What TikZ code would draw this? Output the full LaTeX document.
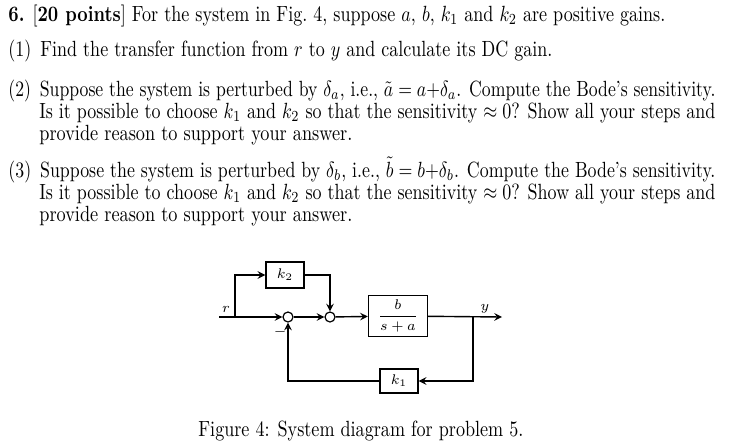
\documentclass[tikz,border=0pt]{standalone}
\usepackage{amsmath,amssymb}
\usepackage{graphicx}
\usetikzlibrary{arrows, positioning}
\newcommand{\fitline}[2]{\resizebox{#1}{1.1\height}{#2}}
\begin{document}
\begin{tikzpicture}[x=0.5pt, y=-0.5pt,
        txt/.style={anchor=base west, inner sep=0pt, font=\normalsize},
        blk/.style={rectangle, draw, line width=0.7pt, inner sep=0pt, font=\scriptsize},
        sumpt/.style={circle, draw, line width=0.6pt, inner sep=0pt, minimum size=5pt},
        arrow/.style={->, >=stealth, line width=0.7pt},
        line/.style={line width=0.7pt}
    ]
        \useasboundingbox (0,0) rectangle (730,441);
        % Problem text
        \node[txt] (l0) at (8,21) {\fitline{328.5pt}{\textbf{6.} [\textbf{20 points}] For the system in Fig.~4, suppose $a$, $b$, $k_1$ and $k_2$ are positive gains.}};
        \node[txt] (l1) at (8,56) {\fitline{272pt}{(1)\, Find the transfer function from $r$ to $y$ and calculate its DC gain.}};
        \node[txt] (l2a) at (8,96) {\fitline{353.5pt}{(2)\, Suppose the system is perturbed by $\delta_a$, i.e., $\tilde{a}=a{+}\delta_a$. Compute the Bode's sensitivity.}};
        \node[txt] (l2b) at (39,118) {\fitline{338pt}{Is it possible to choose $k_1$ and $k_2$ so that the sensitivity $\approx 0$? Show all your steps and}};
        \node[txt] (l2c) at (39,140) {\fitline{156.5pt}{provide reason to support your answer.}};
        \node[txt] (l3a) at (8,177) {\fitline{353.5pt}{(3)\, Suppose the system is perturbed by $\delta_b$, i.e., $\tilde{b}=b{+}\delta_b$. Compute the Bode's sensitivity.}};
        \node[txt] (l3b) at (39,199) {\fitline{338pt}{Is it possible to choose $k_1$ and $k_2$ so that the sensitivity $\approx 0$? Show all your steps and}};
        \node[txt] (l3c) at (39,221) {\fitline{156.5pt}{provide reason to support your answer.}};
        \node[txt] (cap) at (198,436) {\fitline{162.5pt}{Figure 4: System diagram for problem 5.}};

        % Blocks
        \node[blk, minimum width=19pt, minimum height=13pt] (k2) at (285,275) {$k_2$};
        \node[blk, minimum width=29.5pt, minimum height=20.5pt] (plant) at (398,316) {$\dfrac{b}{s+a}$};
        \node[blk, minimum width=19pt, minimum height=12pt] (k1) at (399,381) {$k_1$};
        \node[sumpt] (sum1) at (288,317) {};
        \node[sumpt] (sum2) at (330,317) {};
        \coordinate (rin) at (219,317);
        \coordinate (rsplit) at (235,317);
        \coordinate (ysplit) at (473,317);
        \coordinate (yout) at (502,317);

        % Connections
        \draw[arrow] (rin) -- (sum1);
        \draw[arrow] (rsplit) |- (k2);
        \draw[arrow] (k2) -| (sum2);
        \draw[arrow] (sum1) -- (sum2);
        \draw[arrow] (sum2) -- (plant);
        \draw[arrow] (plant) -- (yout);
        \draw[arrow] (ysplit) |- (k1);
        \draw[arrow] (k1) -| (sum1);

        % Labels
        \node[font=\scriptsize\itshape] (rlab) at (226,309) {$r$};
        \node[font=\scriptsize\itshape] (ylab) at (485,309) {$y$};
        \node[font=\scriptsize] (minus) at (280,332) {$-$};
\end{tikzpicture}
\end{document}
